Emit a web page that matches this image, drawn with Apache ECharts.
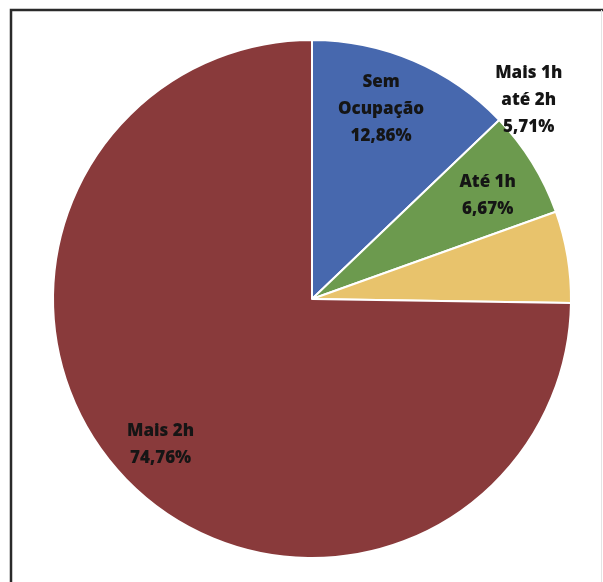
<!DOCTYPE html>
<html>
<head>
<meta charset="utf-8">
<script src="https://cdn.jsdelivr.net/npm/echarts@6/dist/echarts.min.js"></script>
<style>
  html, body { margin: 0; padding: 0; background: #fff; }
  #chart { width: 603px; height: 582px; }
</style>
</head>
<body>
<div id="chart"></div>
<script>
// categorias e percentuais
const categorias = ['Sem\nOcupação', 'Até 1h', 'Mais 1h\naté 2h', 'Mais 2h'];
const percentuais = [12.86, 6.67, 5.71, 74.76];
const cores = ['#4768ae', '#6c9a4e', '#e8c36c', '#893a3b'];
// deslocamento dos rótulos (px) a partir da posição 'inside'
const deslocX = [17, 63, 86, -57];
const deslocY = [-68, -34, -177, 53];

const chart = echarts.init(document.getElementById('chart'));

const option = {
  animation: false,
  graphic: [{
    type: 'polyline',
    shape: { points: [[11, 582], [11, 10], [603, 10]] },
    style: { stroke: '#2a2a2a', lineWidth: 2.5, fill: null }
  }, {
    type: 'line',
    shape: { x1: 601.5, y1: 10, x2: 601.5, y2: 582 },
    style: { stroke: '#e4e4e4', lineWidth: 1 }
  }],
  series: [{
    type: 'pie',
    center: [312, 299],
    radius: [0, 259],
    startAngle: 90,
    clockwise: true,
    itemStyle: { borderColor: '#fff', borderWidth: 2 },
    label: {
      show: true,
      position: 'inside',
      color: '#151515',
      fontFamily: 'Open Sans',
      fontWeight: 800,
      fontSize: 17,
      lineHeight: 27,
      align: 'center',
      formatter: p => p.name + '\n' + p.value.toFixed(2).replace('.', ',') + '%'
    },
    labelLine: { show: false },
    labelLayout: p => ({ dx: deslocX[p.dataIndex], dy: deslocY[p.dataIndex] }),
    data: categorias.map((c, i) => ({
      name: c,
      value: percentuais[i],
      itemStyle: { color: cores[i] }
    }))
  }]
};

chart.setOption(option);
</script>
</body>
</html>
